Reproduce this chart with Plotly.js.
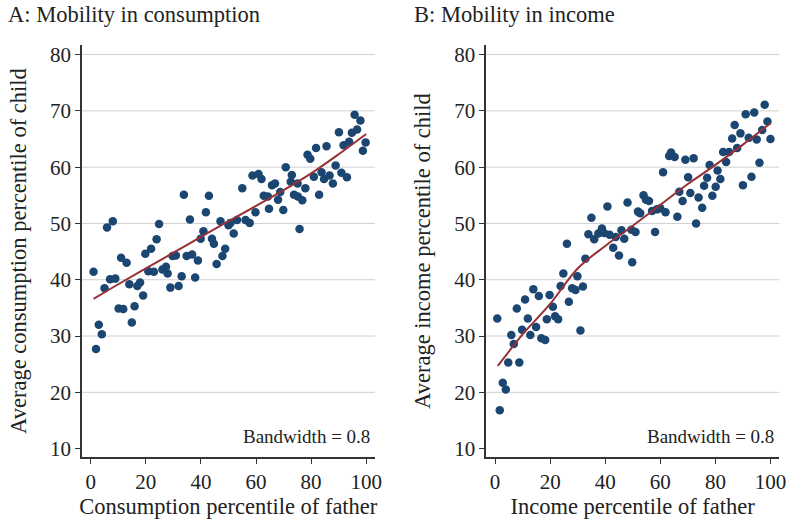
<!DOCTYPE html>
<html>
<head>
<meta charset="utf-8">
<script src="https://cdn.plot.ly/plotly-3.0.1.min.js"></script>
<style>html,body{margin:0;padding:0;background:#fff;}#chart{width:787px;height:520px;}</style>
</head>
<body>
<div id="chart"></div>
<script>
// Panel A: consumption mobility (father percentile, child average percentile)
const consFather = [95.8,97.9,96.7,94.8,90.1,93.8,91.8,99.8,98.8,81.8,85.6,78.7,79.7,88.9,70.8,83.8,91,73,81,86.7,93,58.7,60.9,
  62,84.7,87.9,75.1,72.6,65.8,66.9,68.8,55,62.8,64.3,68,73.8,77.9,75.2,76.8,82.9,64.7,69.9,59.8,75.8,
  33.8,42.9,41.8,36,47.1,50.7,53.1,56.2,57.7,50,51.9,40.9,39.9,44,44.7,48.8,47.8,45.7,38.9,36.8,34.8,30.9,29.7,
  24.8,23.9,21.9,19.8,11,13,8,5.9,1,7,8.9,14,5,17.9,16.9,20.9,22.9,26,27.3,27.9,33,28.9,31.9,37.9,19,
  10.1,11.8,15.9,14.9,2.9,4,1.9];
const consChild = [69.3,68.3,66.7,66.1,66.2,64.5,63.9,64.4,62.9,63.4,63.7,62.2,61.5,60.3,60.0,59.1,59,58.6,58.3,58.5,58.2,58.5,58.8,
  57.9,57.9,57.1,57.1,57.4,56.8,57.1,55.6,56.25,54.9,54.8,54.2,55.1,56.25,54.8,54.1,55.1,52.6,52.4,52.0,49.0,
  55.1,54.9,52.0,50.7,50.4,50.1,50.6,50.6,50.1,49.7,48.2,48.6,47.3,47.3,46.4,45.5,44.2,42.8,43.4,44.5,44.2,44.3,44.2,
  49.9,47.2,45.5,44.6,43.9,43.0,50.4,49.3,41.4,40.1,40.2,39.2,38.5,39.5,38.9,41.5,41.4,41.8,42.3,41.1,40.6,38.6,38.9,40.4,37.2,
  34.9,34.8,35.3,32.4,32.0,30.3,27.7];
const consFitX = [1,10,20,30,40,50,60,70,80,90,100];
const consFitY = [36.6,39.2,42.0,44.8,47.6,50.4,53.1,55.9,58.9,62.3,65.9];

// Panel B: income mobility
const incFather = [97.9,91,94.1,98.9,97,87,89.1,86.1,92.1,95,100,82.8,85,87.9,83.9,96,63.2,63.9,65.2,69.1,72.1,77.9,61,80.8,70.1,77,81.8,93.1,
  90,80.1,75.9,66.9,70.9,68.1,73.9,78.9,75.2,73,66.2,
  53.9,54.8,55.9,48.1,40.8,51.9,52.7,57,58.8,60,61.9,58.1,
  35,33.9,36,37.5,38.8,39.6,41.6,43.8,45.9,46.9,49.5,51,
  42.9,45,49.8,26.1,32.8,24.8,29.9,23.8,31.9,28,29.2,
  13.9,10.9,15.9,19.8,26.8,21,7.9,
  0.8,11.9,9.8,5.9,14.9,12.8,6.8,18.8,21.8,22.9,16.8,18.2,31,4.8,8.8,2.8,3.9,1.7];
const incChild = [71.1,69.4,69.7,68.1,66.6,67.5,66.0,65.1,65.2,64.9,65.0,62.7,62.7,63.4,60.9,60.8,62.0,62.6,61.8,61.3,61.6,60.4,59.1,59.4,58.2,58.1,57.9,58.3,
  56.8,56.5,56.7,55.65,55.4,54.0,54.6,54.9,52.8,50.0,51.2,
  55.0,54.2,54.0,53.7,53.0,52.1,51.8,52.2,52.5,52.7,52.0,48.5,
  51.0,48.1,47.2,48.2,49.1,48.3,48.0,47.6,48.8,47.3,48.9,48.5,
  45.7,44.3,43.1,46.4,43.75,41.1,40.6,38.9,38.8,38.5,38.2,
  38.3,36.5,37.1,37.3,36.1,35.2,34.9,
  33.1,33.1,31.1,30.2,31.6,30.2,28.6,33.0,33.5,33.0,29.6,29.3,31.0,25.3,25.3,21.7,20.5,16.8];
const incFitX = [1,10,20,30,40,50,60,70,80,90,100];
const incFitY = [24.7,30.3,35.7,42.0,46.0,49.6,53.3,57.0,60.4,64.0,67.8];

const xTicks = [0,20,40,60,80,100];
const yTicks = [10,20,30,40,50,60,70,80];
const gridVals = [20,30,40,50,60,70,80];

const dotColor = '#1b4671';
const lineColor = '#983035';
const FONT = 'Liberation Serif, Times New Roman, serif';
const textColor = '#222';

const traces = [
  {type:'scatter', mode:'markers', x:consFather, y:consChild, xaxis:'x', yaxis:'y',
   marker:{color:dotColor, size:8.5}, hoverinfo:'x+y', showlegend:false},
  {type:'scatter', mode:'lines', x:consFitX, y:consFitY, xaxis:'x', yaxis:'y',
   line:{color:lineColor, width:2, shape:'spline'}, showlegend:false},
  {type:'scatter', mode:'markers', x:incFather, y:incChild, xaxis:'x2', yaxis:'y2',
   marker:{color:dotColor, size:8.5}, hoverinfo:'x+y', showlegend:false},
  {type:'scatter', mode:'lines', x:incFitX, y:incFitY, xaxis:'x2', yaxis:'y2',
   line:{color:lineColor, width:2, shape:'spline'}, showlegend:false}
];

function xAxis(domain, anchor, title) {
  return {domain:domain, anchor:anchor, range:[-3.3,103.2], tickmode:'array', tickvals:xTicks,
    ticks:'outside', ticklen:5, tickwidth:1, tickcolor:'#333', showline:true, linecolor:'#333', linewidth:1.5,
    showgrid:false, zeroline:false, tickfont:{family:FONT, size:21, color:textColor},
    title:{text:title, font:{family:FONT, size:22.5, color:textColor}, standoff:5}};
}
function yAxis(domain, anchor, title) {
  return {domain:domain, anchor:anchor, range:[8.5,81.7], tickmode:'array', tickvals:yTicks,
    ticks:'outside', ticklen:5, tickwidth:1, tickcolor:'#333', showline:true, linecolor:'#333', linewidth:1.5,
    showgrid:false, zeroline:false, tickfont:{family:FONT, size:21, color:textColor},
    title:{text:title, font:{family:FONT, size:22.5, color:textColor}, standoff:17}};
}

const shapes = [];
[['x','y'],['x2','y2']].forEach(([xa,ya]) => {
  gridVals.forEach(v => shapes.push({type:'line', layer:'below', xref:xa+' domain', yref:ya,
    x0:0, x1:1, y0:v, y1:v, line:{color:'#d0d0d0', width:1}}));
});

const layout = {
  width:787, height:520, autosize:false,
  margin:{l:0, r:0, t:0, b:0},
  paper_bgcolor:'#fff', plot_bgcolor:'#fff',
  font:{family:FONT, color:textColor},
  xaxis: xAxis([0.1038,0.4765], 'y', 'Consumption percentile of father'),
  yaxis: yAxis([0.121,0.9135], 'x', 'Average consumption percentile of child'),
  xaxis2: xAxis([0.6175,0.9902], 'y2', 'Income percentile of father'),
  yaxis2: yAxis([0.121,0.9135], 'x2', 'Average income percentile of child'),
  shapes: shapes,
  annotations: [
    {text:'A: Mobility in consumption', xref:'paper', yref:'paper', x:0.008, y:1.0, xanchor:'left', yanchor:'top',
     showarrow:false, font:{family:FONT, size:22.5, color:textColor}},
    {text:'B: Mobility in income', xref:'paper', yref:'paper', x:0.524, y:1.0, xanchor:'left', yanchor:'top',
     showarrow:false, font:{family:FONT, size:22.5, color:textColor}},
    {text:'Bandwidth = 0.8', xref:'x domain', yref:'y domain', x:0.99, y:0.05, xanchor:'right', yanchor:'middle',
     showarrow:false, font:{family:FONT, size:19, color:textColor}},
    {text:'Bandwidth = 0.8', xref:'x2 domain', yref:'y2 domain', x:0.99, y:0.05, xanchor:'right', yanchor:'middle',
     showarrow:false, font:{family:FONT, size:19, color:textColor}}
  ]
};

Plotly.newPlot('chart', traces, layout, {displayModeBar:false, staticPlot:true});
</script>
</body>
</html>
